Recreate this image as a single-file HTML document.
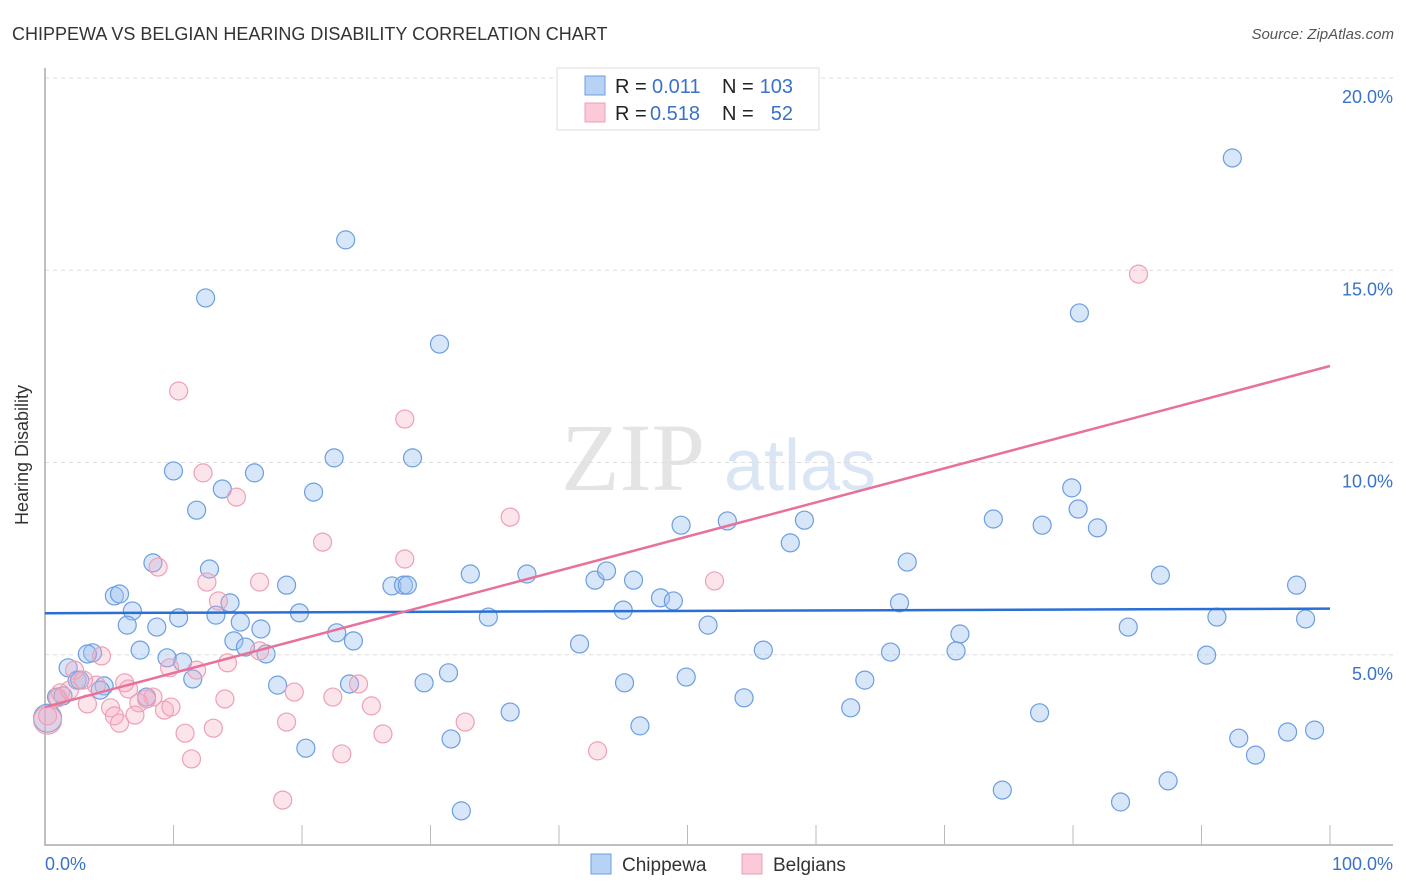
<!DOCTYPE html>
<html><head><meta charset="utf-8"><style>
body{margin:0;background:#fff;font-family:"Liberation Sans",sans-serif}
svg{display:block}
</style></head><body>
<svg id="c" width="1406" height="892" xmlns="http://www.w3.org/2000/svg">
<text x="12" y="40" font-size="18" fill="#333">CHIPPEWA VS BELGIAN HEARING DISABILITY CORRELATION CHART</text>
<text x="1394" y="39" font-size="15" fill="#555" font-style="italic" text-anchor="end">Source: ZipAtlas.com</text>
<g>
<text x="633" y="490" font-size="96" font-family="Liberation Serif,serif" fill="#e4e4e4" text-anchor="middle">ZIP</text>
<text x="800" y="490" font-size="72" fill="#dbe6f5" text-anchor="middle">atlas</text>
</g>
<g id="grid"></g>
<g id="axes"></g>
<g id="pts"></g>
<g id="lines"></g>
<text x="28" y="455" font-size="18" fill="#333" transform="rotate(-90 28 455)" text-anchor="middle">Hearing Disability</text>
<text x="45" y="870" font-size="18" fill="#3a72c8">0.0%</text>
<text x="1393" y="870" font-size="18" fill="#3a72c8" text-anchor="end">100.0%</text>
<g>
<rect x="557" y="68" width="262" height="62" fill="#fff" stroke="#ddd"/>
<rect x="585" y="76" width="20" height="19" fill="#b8d2f5" stroke="#6c9ee0"/>
<rect x="585" y="103" width="20" height="19" fill="#fbc9d7" stroke="#eea0b5"/>
<text x="615" y="93" font-size="20" fill="#222">R =</text>
<text x="652" y="93" font-size="20" fill="#3a72c8">0.011</text>
<text x="722" y="93" font-size="20" fill="#222">N =</text>
<text x="793" y="93" font-size="20" fill="#3a72c8" text-anchor="end">103</text>
<text x="615" y="120" font-size="20" fill="#222">R =</text>
<text x="650" y="120" font-size="20" fill="#3a72c8">0.518</text>
<text x="722" y="120" font-size="20" fill="#222">N =</text>
<text x="793" y="120" font-size="20" fill="#3a72c8" text-anchor="end">52</text>
</g>
<g>
<rect x="591" y="854" width="20" height="20" fill="#b8d2f5" stroke="#6c9ee0"/>
<text x="622" y="871" font-size="19" fill="#333">Chippewa</text>
<rect x="742" y="854" width="20" height="20" fill="#fbc9d7" stroke="#eea0b5"/>
<text x="773" y="871" font-size="19" fill="#333">Belgians</text>
</g>
</svg>
<script>
const yTicks=[5,10,15,20];
const yTickLabels=["5.0%","10.0%","15.0%","20.0%"];
const blueX=[12.5,23.4,30.7,92.4,80.5,10.0,16.3,13.8,11.8,20.9,22.5,28.6,8.4,12.8,5.4,5.8,6.8,6.4,10.4,8.7,13.3,14.4,15.2,16.8,18.8,19.8,17.2,14.7,15.6,22.7,24.0,27.0,27.9,28.2,33.1,37.5,34.5,42.8,43.7,45.8,45.0,47.9,48.9,49.5,53.1,59.1,58.0,67.1,66.5,51.6,41.6,55.9,65.8,71.2,70.9,73.8,77.6,79.9,80.4,81.9,86.8,84.3,91.2,97.4,98.1,90.4,92.9,96.7,98.8,94.2,87.4,83.7,74.5,77.4,63.8,62.7,54.4,49.9,46.3,45.1,31.6,32.4,36.2,29.5,31.4,23.7,20.3,18.1,11.5,10.7,9.5,7.4,3.7,3.3,1.8,2.5,2.7,4.6,4.3,0.9,1.4,7.9,0.2];
const blueY=[14.28,15.79,13.08,17.92,13.89,9.78,9.73,9.31,8.76,9.23,10.12,10.12,7.39,7.23,6.53,6.58,6.14,5.77,5.96,5.72,6.03,6.35,5.85,5.67,6.81,6.09,5.02,5.36,5.20,5.57,5.36,6.79,6.81,6.81,7.10,7.10,5.98,6.94,7.18,6.94,6.16,6.48,6.40,8.37,8.48,8.50,7.91,7.41,6.35,5.77,5.28,5.12,5.07,5.54,5.10,8.53,8.37,9.34,8.79,8.30,7.07,5.72,5.98,6.81,5.93,4.99,2.83,2.99,3.04,2.39,1.72,1.17,1.48,3.49,4.34,3.62,3.88,4.42,3.15,4.27,2.81,0.94,3.51,4.27,4.53,4.24,2.57,4.21,4.37,4.81,4.92,5.12,5.05,5.02,4.66,4.34,4.34,4.19,4.08,3.90,3.93,3.90,3.35];
const pinkX=[10.4,28.0,85.1,12.3,14.9,36.2,21.6,28.0,8.8,12.6,16.7,52.1,13.5,16.7,14.2,11.8,4.4,2.3,9.7,6.5,6.2,4.0,3.0,1.2,1.0,8.4,7.9,7.3,3.3,5.1,9.3,9.8,5.4,7.0,5.8,19.4,22.4,24.4,25.4,18.8,13.1,10.9,32.7,26.3,23.1,11.4,18.5,43.0,0.2,0.2,1.9,14.0];
const pinkY=[11.86,11.13,14.90,9.73,9.10,8.58,7.93,7.49,7.28,6.89,6.89,6.92,6.40,5.10,4.79,4.60,4.97,4.60,4.66,4.11,4.27,4.21,4.34,4.01,3.88,3.90,3.85,3.75,3.72,3.62,3.56,3.64,3.41,3.43,3.22,4.03,3.90,4.24,3.67,3.25,3.09,2.96,3.25,2.94,2.42,2.29,1.22,2.50,3.30,3.41,4.08,3.85];
const blueTrend=[6.08,6.2];
const pinkTrend=[3.64,12.51];
const NS="http://www.w3.org/2000/svg";
const X=v=>45+v*12.85, Y=v=>847-v*38.45;
function mk(t,a,p){const e=document.createElementNS(NS,t);for(const k in a)e.setAttribute(k,a[k]);document.getElementById(p).appendChild(e);return e;}
yTicks.forEach((t,i)=>{
 const g=mk('line',{x1:45,x2:1393,y1:Y(t),y2:Y(t),stroke:'#ddd','stroke-dasharray':'4,4'},'grid');
 
 
 const l=mk('text',{x:1393,y:Y(t)+25,'font-size':18,fill:'#3a72c8','text-anchor':'end'},'grid');
 l.textContent=yTickLabels[i];
 
 
});
const ax=mk('path',{d:'M45 68V845H1393',fill:'none',stroke:'#aaa','stroke-width':1.5},'axes');


for(let i=1;i<=10;i++){const t=mk('line',{x1:X(i*10),x2:X(i*10),y1:825,y2:845,stroke:'#bbb'},'axes');
 
 }
function dots(xs,ys,fill,stroke,name){xs.forEach((x,i)=>{
 const r=(x<0.5&&(ys[i]<3.4))?14:9;
 const c=mk('circle',{cx:X(x),cy:Y(ys[i]),r:r,fill:fill,stroke:stroke,'stroke-width':1.2},'pts');
 
 });}
dots(blueX,blueY,'rgba(160,196,240,0.42)','#6c9ee0','chippewa-point');
dots(pinkX,pinkY,'rgba(245,170,192,0.32)','#eea0b5','belgians-point');
const b=mk('line',{x1:X(0),y1:Y(blueTrend[0]),x2:X(100),y2:Y(blueTrend[1]),stroke:'#2a6fd6','stroke-width':2.5},'lines');


const p=mk('line',{x1:X(0),y1:Y(pinkTrend[0]),x2:X(100),y2:Y(pinkTrend[1]),stroke:'#e8719a','stroke-width':2.5},'lines');


</script>
</body></html>
